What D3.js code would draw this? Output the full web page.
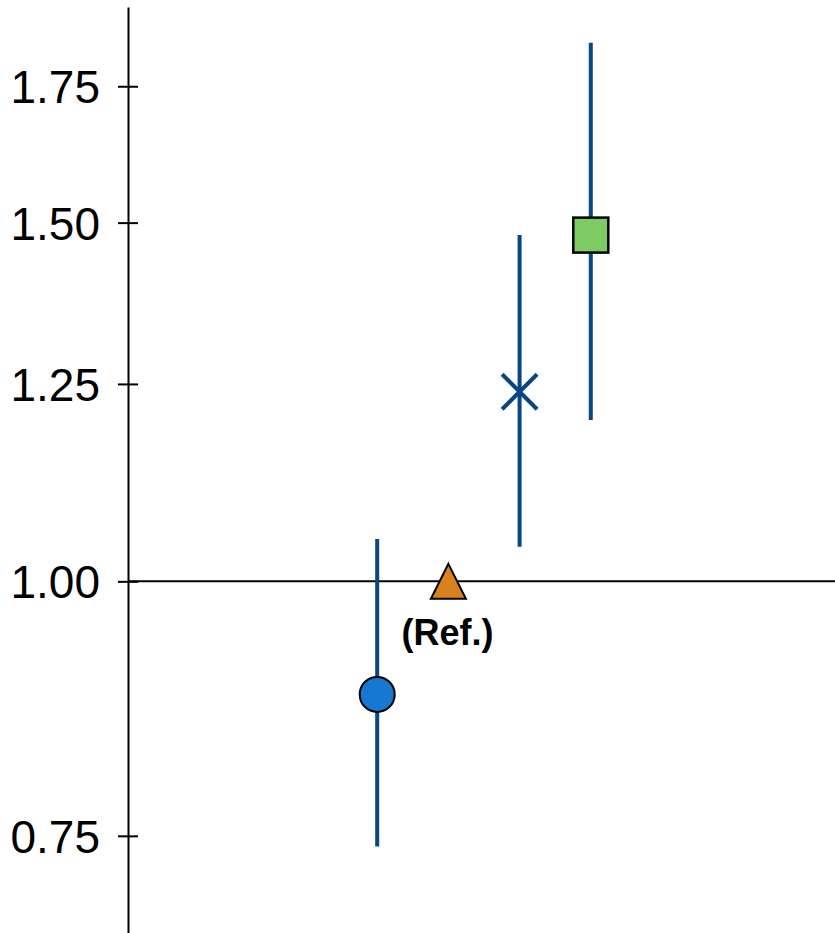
<!DOCTYPE html>
<html>
<head>
<meta charset="utf-8">
<script src="https://cdn.jsdelivr.net/npm/d3@7"></script>
<style>
  html, body { margin: 0; padding: 0; background: #fff; }
  svg { display: block; font-family: "Liberation Sans", Arial, sans-serif; }
</style>
</head>
<body>
<div id="chart"></div>
<script>
// values (log-scaled ratio with CI)
const groups = ['A', 'B', 'C', 'D'];
const estimates = [0.880, 1.00, 1.239, 1.479];
const lowerCI = [0.741, null, 1.040, 1.200];
const upperCI = [1.049, null, 1.479, 1.838];
const markers = ['circle', 'triangle', 'cross', 'square'];
const markerFills = ['#1778d2', '#d8821e', 'none', '#7dcb62'];
const yTicks = [0.75, 1.00, 1.25, 1.50, 1.75];
const refLabel = '(Ref.)';

const width = 835, height = 933;
const ciColor = '#074784';

const svg = d3.select('#chart').append('svg')
  .attr('width', width).attr('height', height);

const x = d3.scaleLinear()
  .domain([-3.5, 6.43])
  .range([128, 835]);

const y = d3.scaleLog()
  .domain([0.672, 1.914])
  .range([933, 7]);

// y axis
const yAxis = svg.append('g')
  .attr('transform', 'translate(128,0)')
  .call(d3.axisLeft(y).tickValues(yTicks).tickFormat(d3.format('.2f'))
    .tickSizeInner(10).tickSizeOuter(0).tickPadding(18));
yAxis.select('.domain').attr('stroke', '#000').attr('stroke-width', 2);
yAxis.selectAll('.tick line').attr('stroke', '#000').attr('stroke-width', 2)
  .attr('x1', 10);
yAxis.selectAll('.tick text')
  .attr('fill', '#000')
  .style('font-size', '46px')
  .attr('dy', '0.36em');

// reference line at 1
svg.append('line')
  .attr('x1', 128).attr('x2', width)
  .attr('y1', y(1)).attr('y2', y(1))
  .attr('stroke', '#000').attr('stroke-width', 2);

// confidence intervals
groups.forEach((g, i) => {
  if (lowerCI[i] == null) return;
  svg.append('line')
    .attr('x1', x(i)).attr('x2', x(i))
    .attr('y1', y(lowerCI[i])).attr('y2', y(upperCI[i]))
    .attr('stroke', ciColor).attr('stroke-width', 4);
});

// point markers
const size = 35;
groups.forEach((g, i) => {
  const cx = x(i), cy = y(estimates[i]);
  const m = markers[i];
  if (m === 'circle') {
    svg.append('circle').attr('cx', cx).attr('cy', cy).attr('r', 17.5)
      .attr('fill', markerFills[i]).attr('stroke', '#000').attr('stroke-width', 2);
  } else if (m === 'triangle') {
    const h = size;
    svg.append('path')
      .attr('d', `M${cx},${cy - h / 2}L${cx + size / 2},${cy + h / 2}L${cx - size / 2},${cy + h / 2}Z`)
      .attr('fill', markerFills[i]).attr('stroke', '#000').attr('stroke-width', 2);
  } else if (m === 'cross') {
    const a = 17.5;
    svg.append('path')
      .attr('d', `M${cx - a},${cy - a}L${cx + a},${cy + a}M${cx - a},${cy + a}L${cx + a},${cy - a}`)
      .attr('stroke', ciColor).attr('stroke-width', 4).attr('fill', 'none');
  } else if (m === 'square') {
    svg.append('rect')
      .attr('x', cx - size / 2).attr('y', cy - size / 2)
      .attr('width', size).attr('height', size)
      .attr('fill', markerFills[i]).attr('stroke', '#000').attr('stroke-width', 2.5);
  }
});

// reference label under the triangle
svg.append('text')
  .attr('x', x(1) - 1)
  .attr('y', y(1) + 64)
  .attr('text-anchor', 'middle')
  .style('font-size', '36px')
  .style('font-weight', 'bold')
  .attr('fill', '#000')
  .text(refLabel);
</script>
</body>
</html>
